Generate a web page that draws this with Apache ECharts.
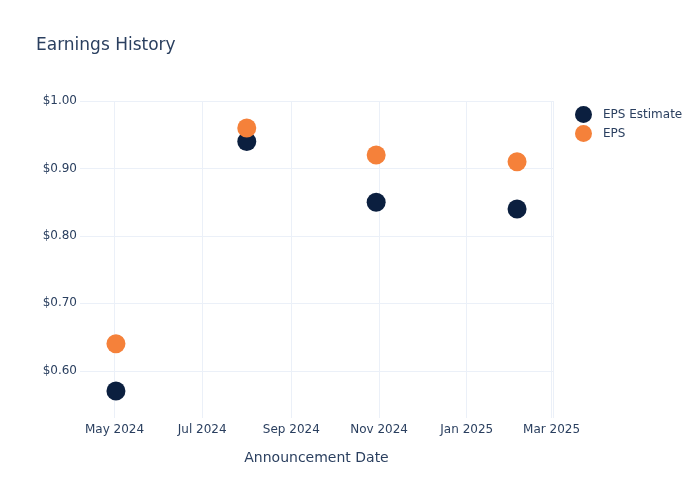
<!DOCTYPE html>
<html>
<head>
<meta charset="utf-8">
<script src="https://cdn.jsdelivr.net/npm/echarts@6/dist/echarts.min.js"></script>
<style>
html,body{margin:0;padding:0;background:#fff;}
#chart{width:700px;height:500px;}
</style>
</head>
<body>
<div id="chart"></div>
<script>
const dates = ['2024-05-02', '2024-08-01', '2024-10-30', '2025-02-05'];
const epsEstimate = [0.57, 0.94, 0.85, 0.84];
const epsActual = [0.64, 0.96, 0.92, 0.91];
const seriesNames = ['EPS Estimate', 'EPS'];
const monthNames = ['Jan','Feb','Mar','Apr','May','Jun','Jul','Aug','Sep','Oct','Nov','Dec'];

const FONT = 'DejaVu Sans, sans-serif';
const TXT = '#2a3f5f';
const GRID = '#ebf0f8';

const chart = echarts.init(document.getElementById('chart'), null, {renderer: 'canvas'});
chart.setOption({
  backgroundColor: '#fff',
  animation: false,
  title: {
    text: 'Earnings History',
    left: 31, top: 32,
    textStyle: {fontFamily: FONT, fontSize: 17, fontWeight: 'normal', color: TXT}
  },
  legend: {
    orient: 'vertical',
    left: 570, top: 101,
    itemWidth: 17, itemHeight: 17, itemGap: 2,
    icon: 'circle',
    data: seriesNames,
    textStyle: {fontFamily: FONT, fontSize: 12, color: TXT, padding: [0, 0, 0, 6]}
  },
  grid: {left: 80, right: 147, top: 101, bottom: 82, containLabel: false},
  xAxis: {
    type: 'time',
    min: +new Date('2024-04-07T00:00:00'),
    max: +new Date('2025-03-02T00:00:00'),
    splitNumber: 4,
    name: 'Announcement Date',
    nameLocation: 'middle',
    nameGap: 33,
    nameTextStyle: {fontFamily: FONT, fontSize: 14, color: TXT},
    axisLine: {show: false},
    axisTick: {show: false},
    splitLine: {show: true, showMinLine: false, lineStyle: {color: GRID, width: 1}},
    axisLabel: {
      fontFamily: FONT, fontSize: 12, color: TXT, margin: 6,
      showMinLabel: false, showMaxLabel: false,
      formatter: function (v) {
        const d = new Date(v);
        return monthNames[d.getMonth()] + ' ' + d.getFullYear();
      }
    }
  },
  yAxis: {
    type: 'value',
    min: 0.53,
    max: 1.0,
    axisLine: {show: false},
    axisTick: {show: false},
    splitLine: {show: true, showMinLine: false, lineStyle: {color: GRID, width: 1}},
    axisLabel: {
      fontFamily: FONT, fontSize: 12, color: TXT, margin: 3,
      showMinLabel: false,
      formatter: function (v) {
        if (Math.abs(v * 10 - Math.round(v * 10)) > 1e-6) return '';
        return '$' + v.toFixed(2);
      }
    }
  },
  series: [
    {
      name: seriesNames[0],
      type: 'scatter',
      symbolSize: 19,
      itemStyle: {color: '#0b1f3f', opacity: 1},
      data: dates.map((d, i) => [d, epsEstimate[i]])
    },
    {
      name: seriesNames[1],
      type: 'scatter',
      symbolSize: 19,
      itemStyle: {color: '#f5813a', opacity: 1},
      data: dates.map((d, i) => [d, epsActual[i]])
    }
  ]
});
</script>
</body>
</html>
